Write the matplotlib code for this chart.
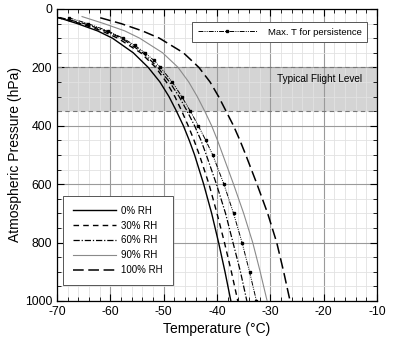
import matplotlib
matplotlib.use("Agg")
import matplotlib.pyplot as plt
from matplotlib.ticker import MultipleLocator

plt.rcParams['font.family'] = ['Liberation Sans', 'DejaVu Sans']
plt.rcParams['axes.unicode_minus'] = False

# Data (pressure in hPa, temperature in degC)
p_0 = [28, 50, 75, 100, 150, 200, 250, 300, 350, 400, 450, 500, 600, 700, 800, 900, 1000]
t_0 = [-70.0, -66.2, -62.4, -59.6, -55.7, -52.9, -50.7, -49.0, -47.6, -46.3, -45.2, -44.2, -42.5, -41.0, -39.7, -38.5, -37.4]

p_30 = [29, 50, 75, 100, 150, 200, 250, 300, 350, 400, 450, 500, 600, 700, 800, 900, 1000]
t_30 = [-70.0, -65.6, -61.6, -58.6, -54.3, -51.5, -49.5, -47.9, -46.6, -45.4, -44.3, -43.3, -41.5, -40.0, -38.6, -37.3, -36.1]

p_60 = [29, 50, 75, 100, 150, 200, 250, 300, 350, 400, 450, 500, 600, 700, 800, 900, 1000]
t_60 = [-69.5, -64.9, -60.9, -57.9, -53.9, -51.1, -48.9, -47.1, -45.6, -44.2, -43.0, -42.0, -40.1, -38.4, -37.0, -35.6, -34.4]

p_90 = [26, 50, 75, 100, 150, 200, 250, 300, 350, 400, 450, 500, 600, 700, 800, 900, 1000]
t_90 = [-65.3, -61.2, -57.3, -54.5, -50.2, -47.3, -45.3, -43.7, -42.3, -41.0, -39.9, -38.9, -36.9, -35.0, -33.3, -31.9, -30.6]

p_100 = [30, 50, 75, 100, 150, 200, 250, 300, 350, 400, 450, 500, 600, 700, 800, 900, 1000]
t_100 = [-61.9, -58.0, -54.0, -50.8, -46.3, -43.4, -41.3, -39.7, -38.3, -36.9, -35.7, -34.6, -32.5, -30.5, -28.8, -27.5, -26.3]

p_max = [30, 50, 75, 100, 125, 150, 175, 200, 250, 300, 350, 400, 450, 500, 600, 700, 800, 900, 1000]
t_max = [-67.8, -64.2, -60.5, -57.6, -55.4, -53.5, -51.9, -50.6, -48.4, -46.6, -45.0, -43.5, -42.1, -40.8, -38.7, -36.9, -35.3, -33.9, -32.6]

band_p = [200, 350]

fig = plt.figure(figsize=(4.0, 3.38), dpi=100)
ax = fig.add_axes([0.1425, 0.1095, 0.80, 0.8639])

ax.set_xlim(-70, -10)
ax.set_ylim(1000, 0)

# flight level band
ax.axhspan(band_p[0], band_p[1], facecolor='#d4d4d4', edgecolor='none', zorder=0.5)
for bp in band_p:
    ax.axhline(bp, color='#777777', lw=0.8, ls=(0, (4, 3)), zorder=0.6)
ax.text(-12.8, 240, 'Typical Flight Level', ha='right', va='center', fontsize=7.2)

# grid
ax.xaxis.set_major_locator(MultipleLocator(10))
ax.xaxis.set_minor_locator(MultipleLocator(2))
ax.yaxis.set_major_locator(MultipleLocator(200))
ax.yaxis.set_minor_locator(MultipleLocator(50))
ax.grid(which='major', color='#9a9a9a', lw=0.8, zorder=0.4)
ax.grid(which='minor', color='#e2e2e2', lw=0.6, zorder=0.3)
ax.set_axisbelow(True)

ax.tick_params(which='both', direction='in', top=True, right=True, labelsize=8.8)
ax.tick_params(which='major', length=5, width=0.8)
ax.tick_params(which='minor', length=3, width=0.6)

l0, = ax.plot(t_0, p_0, color='black', lw=1.0, ls='-', zorder=3)
l30, = ax.plot(t_30, p_30, color='black', lw=1.0, ls=(0, (4, 3)), zorder=3)
l60, = ax.plot(t_60, p_60, color='black', lw=0.9, ls=(0, (5, 1.5, 1, 1.5)), zorder=3)
l90, = ax.plot(t_90, p_90, color='#8a8a8a', lw=0.8, ls='-', zorder=3)
l100, = ax.plot(t_100, p_100, color='black', lw=1.1, ls=(0, (7, 3)), zorder=3)
lmax, = ax.plot(t_max, p_max, color='black', lw=0.7, ls=(0, (5, 1.2, 1, 1.2, 1, 1.2)),
                marker='s', markersize=1.6, zorder=3)

leg1 = ax.legend([l0, l30, l60, l90, l100], ['0% RH', '30% RH', '60% RH', '90% RH', '100% RH'],
                 loc='lower left', bbox_to_anchor=(0.019, 0.055), borderaxespad=0,
                 fontsize=7, handlelength=4.4,
                 fancybox=False, edgecolor='#555555', framealpha=1, borderpad=1.0,
                 labelspacing=0.5, handletextpad=0.6)
leg1.get_frame().set_linewidth(0.7)
ax.add_artist(leg1)
leg2 = ax.legend([lmax], ['Max. T for persistence'], loc='upper right',
                 bbox_to_anchor=(0.969, 0.955), borderaxespad=0, fontsize=6.8, handlelength=6.3,
                 fancybox=False, edgecolor='#555555', framealpha=1, borderpad=0.6,
                 handletextpad=1.1, markerscale=1.0)
leg2.get_frame().set_linewidth(0.7)

ax.set_xlabel('Temperature (\u00b0C)', fontsize=10, labelpad=3)
ax.set_ylabel('Atmospheric Pressure (hPa)', fontsize=10, labelpad=2)
for s in ax.spines.values():
    s.set_linewidth(0.9)

fig.savefig('out.png', dpi=100)
